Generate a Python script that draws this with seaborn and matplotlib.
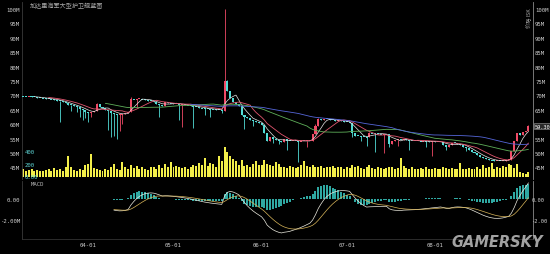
import numpy as np
import pandas as pd
import matplotlib
matplotlib.use("Agg")
import matplotlib.pyplot as plt
import matplotlib.transforms as mtrans
import seaborn as sns

title = "加达里海军大型护卫舰蓝图"
axis_name = "价格 ISK"
start_date = "2024-03-09"
date_tick_labels = ["04-01", "05-01", "06-01", "07-01", "08-01"]

closes = [
    69.7, 69.6, 69.6, 69.5, 69.4, 69.2, 69.1, 69.0, 68.9, 68.7,
    68.6, 68.4, 68.2, 68.0, 67.6, 67.2, 66.8, 66.5, 66.3, 66.0,
    65.4, 64.8, 64.3, 64.0, 64.2, 64.5, 67.0, 66.0, 65.5, 65.0,
    64.5, 64.0, 63.6, 63.4, 63.4, 63.6, 63.8, 64.3, 68.8, 68.6,
    68.7, 68.8, 68.6, 68.5, 68.2, 68.0, 67.6, 67.0, 66.6, 66.2,
    67.6, 67.4, 67.2, 67.1, 67.0, 66.9, 66.8, 66.6, 66.5, 66.3,
    66.1, 65.9, 65.7, 65.5, 65.4, 65.3, 65.2, 65.1, 65.0, 64.9,
    64.7, 75.0, 71.5, 69.2, 67.8, 67.0, 66.4, 63.0, 62.4, 62.0,
    61.6, 61.2, 60.8, 60.3, 59.6, 57.0, 54.0, 55.4, 54.8, 54.6,
    54.2, 53.9, 55.0, 54.3, 54.2, 54.3, 54.2, 54.0, 54.2, 54.1,
    54.3, 54.2, 56.5, 59.5, 61.8, 61.5, 61.9, 61.7, 61.5, 61.4,
    61.2, 61.3, 61.0, 60.9, 60.7, 60.5, 57.0, 56.0, 55.8, 55.6,
    55.5, 55.4, 57.0, 56.8, 56.7, 56.6, 56.5, 56.5, 56.4, 53.2,
    54.2, 54.5, 54.6, 54.4, 54.8, 54.5, 54.3, 54.2, 54.1, 54.2,
    54.0, 54.1, 54.0, 53.9, 54.0, 53.8, 53.9, 53.8, 52.8, 52.2,
    52.6, 53.6, 53.4, 53.0, 52.6, 52.2, 51.8, 51.0, 50.4, 49.8,
    49.2, 48.7, 48.2, 47.9, 47.6, 47.4, 47.2, 47.3, 47.2, 47.3,
    47.5, 47.6, 50.6, 54.0, 56.8, 56.3, 57.2, 57.6, 59.3,
]

opens = [
    69.8, 69.7, 69.6, 69.6, 69.5, 69.4, 69.2, 69.1, 69.0, 68.9,
    68.7, 68.6, 68.4, 68.2, 68.0, 67.6, 67.2, 66.8, 66.5, 66.3,
    66.0, 65.4, 64.8, 64.3, 64.0, 64.2, 64.5, 67.0, 66.0, 65.5,
    65.0, 64.5, 64.0, 63.6, 63.4, 63.4, 63.6, 63.8, 64.3, 68.8,
    68.6, 68.7, 68.8, 68.6, 68.5, 68.2, 68.0, 67.6, 67.0, 66.6,
    66.2, 67.6, 67.4, 67.2, 67.1, 67.0, 66.6, 66.8, 66.6, 66.5,
    66.3, 66.1, 65.9, 65.7, 65.5, 65.4, 65.3, 65.2, 65.1, 65.0,
    64.9, 64.7, 75.0, 71.5, 69.2, 67.8, 67.0, 66.4, 63.0, 62.4,
    62.0, 61.6, 61.2, 60.8, 60.3, 59.6, 57.0, 54.0, 55.4, 54.8,
    54.6, 54.2, 53.9, 55.0, 54.3, 54.2, 54.3, 54.2, 54.0, 54.2,
    54.1, 54.3, 54.2, 56.5, 59.5, 61.8, 61.5, 61.9, 61.7, 61.5,
    61.4, 61.2, 61.3, 61.0, 60.9, 60.7, 60.5, 57.0, 56.0, 55.8,
    55.6, 55.5, 55.4, 57.0, 56.8, 56.7, 56.6, 56.5, 56.5, 56.4,
    53.2, 54.2, 54.5, 54.6, 54.4, 54.8, 54.5, 54.3, 54.2, 54.1,
    54.2, 54.0, 54.1, 54.0, 53.9, 54.0, 53.8, 53.9, 53.8, 52.8,
    52.2, 52.6, 53.6, 53.4, 53.0, 52.6, 52.2, 51.8, 51.0, 50.4,
    49.8, 49.2, 48.7, 48.2, 47.9, 47.6, 47.4, 47.2, 47.3, 47.2,
    47.3, 47.5, 47.6, 50.6, 54.0, 56.8, 56.3, 57.2, 57.6,
]

volumes = [
    120, 90, 110, 130, 100, 110, 90, 100, 110, 120,
    100, 140, 110, 120, 100, 150, 330, 150, 110, 100,
    120, 110, 190, 200, 350, 140, 120, 110, 100, 120,
    110, 150, 200, 120, 110, 230, 150, 130, 190, 140,
    170, 130, 160, 120, 110, 150, 160, 130, 180, 140,
    200, 150, 230, 160, 170, 150, 140, 160, 130, 150,
    190, 170, 220, 180, 290, 170, 220, 200, 160, 320,
    250, 460, 380, 330, 280, 240, 190, 260, 170, 180,
    160, 200, 240, 180, 190, 260, 200, 180, 170, 230,
    200, 150, 160, 140, 170, 150, 140, 150, 180, 250,
    170, 150, 180, 160, 150, 170, 140, 160, 150, 170,
    140, 150, 160, 130, 150, 140, 190, 150, 170, 140,
    130, 160, 190, 140, 130, 150, 140, 120, 140, 160,
    150, 130, 140, 290, 170, 140, 130, 150, 130, 120,
    140, 130, 150, 120, 130, 140, 120, 130, 150, 140,
    130, 140, 130, 120, 210, 130, 120, 140, 130, 120,
    150, 130, 180, 140, 150, 220, 130, 160, 140, 170,
    150, 200, 180, 140, 200, 70, 60, 50, 80,
]

# long wicks (day index -> price)
wick_lows = {
    13: 60.8, 17: 64.6, 19: 64.2, 20: 62.5, 21: 61.5, 22: 62.0, 23: 60.8,
    24: 62.5, 30: 58.0, 31: 55.5, 32: 56.0, 33: 55.0, 34: 57.5, 35: 60.0,
    40: 66.0, 48: 62.5, 55: 61.5, 56: 59.0, 60: 58.5, 64: 63.0, 66: 62.5,
    70: 64.0, 78: 58.2, 81: 59.5, 88: 53.5, 90: 53.0, 93: 51.0, 97: 47.0,
    100: 52.0, 116: 55.5, 119: 54.0, 121: 52.5, 124: 50.2, 127: 50.0,
    129: 52.0, 132: 52.5, 136: 51.0, 142: 52.0, 144: 48.8, 149: 51.0,
    156: 50.5,
}
wick_highs = {
    26: 67.5, 38: 69.5, 71: 100.0, 72: 75.2, 103: 60.0, 104: 62.3,
    122: 57.3, 173: 54.3, 178: 59.8,
}

price_ticks = [100, 95, 90, 85, 80, 75, 70, 65, 60, 55, 50, 45]
volume_ticks = [400, 200, 0]
volume_tick_labels = ["400", "200", "0.00"]
macd_ticks = [0.0, -2.0]
macd_left_labels = ["0.00", "-2.00M"]
macd_right_labels = ["0.00", "-2.00"]
ma_windows = [5, 10, 30, 60]
macd_start = 32

# ---------------- style ----------------
sns.set_theme(style="dark", rc={
    "axes.facecolor": "black", "figure.facecolor": "black",
    "axes.grid": False, "axes.edgecolor": "#333333",
    "xtick.major.size": 0, "ytick.major.size": 0,
})
plt.rcParams["font.family"] = ["DejaVu Sans Mono", "Noto Sans CJK SC"]

UP = "#f04a66"
DOWN = "#52dcd6"
TXT = "#cfcfcf"
FS = 4.1
ma_colors = ["#e6e6e6", "#e2566f", "#5fb05a", "#5566d8"]
ma_widths = [0.5, 0.6, 0.6, 0.6]

W, H = 550, 255
def rect(x0, y0, x1, y1):
    return [x0 / W, 1 - y1 / H, (x1 - x0) / W, (y1 - y0) / H]

fig = plt.figure(figsize=(W / 100, H / 100), dpi=100, facecolor="black")
ax_v = fig.add_axes(rect(22, 140, 533, 178))
ax_p = fig.add_axes(rect(22, 3, 533, 180))
ax_m = fig.add_axes(rect(22, 182, 533, 240))
ax_p.set_facecolor("none")

n = len(closes)
x = np.arange(n)
o = np.array(opens, dtype=float)
c = np.array(closes, dtype=float)
body_lo = np.minimum(o, c)
body_hi = np.maximum(o, c)
lows = body_lo.copy()
highs = body_hi.copy()
for k, v in wick_lows.items():
    lows[k] = v
for k, v in wick_highs.items():
    highs[k] = v
col = np.where(c >= o, UP, DOWN)
min_h = 0.35
raw_h = body_hi - body_lo
h = np.maximum(raw_h, min_h)
bottom = np.where(raw_h < min_h, (body_hi + body_lo) / 2 - min_h / 2, body_lo)

XL = (-0.35, 179.6)
YL = (40.93, 102.44)

# volume
ax_v.bar(x, volumes, width=0.7, color="#f2ee4a", linewidth=0)
ax_v.set_xlim(*XL)
ax_v.set_ylim(0, 585)
ax_v.set_xticks([])
ax_v.set_yticks([])
for s in ax_v.spines.values():
    s.set_visible(False)
tv = mtrans.blended_transform_factory(ax_v.transAxes, ax_v.transData)
for v, lab in zip(volume_ticks, volume_tick_labels):
    ax_v.text(0.006, v, lab, transform=tv, ha="left", va="center",
              fontsize=FS, color="#5fd8d8", zorder=6)

# candles
ax_p.vlines(x, lows, highs, colors=col, linewidth=0.6, zorder=3)
ax_p.bar(x, h, bottom=bottom, width=0.72, color=col, linewidth=0, zorder=4)

series = pd.Series(c)
for w, colr, lw in zip(ma_windows, ma_colors, ma_widths):
    ma = series.rolling(w).mean()
    m = ma.notna().values
    sns.lineplot(x=x[m], y=ma.values[m], ax=ax_p, color=colr,
                 linewidth=lw, zorder=5, legend=False)

ax_p.set_xlim(*XL)
ax_p.set_ylim(*YL)
ax_p.set_xticks([])
ax_p.set_yticks(price_ticks)
ax_p.set_yticklabels([f"{p}M" for p in price_ticks])
ax_p.tick_params(axis="y", left=False, right=False, labelleft=True,
                 labelright=False, labelsize=FS, labelcolor=TXT, pad=1.5)
ax_p.set_ylabel("")
for s in ax_p.spines.values():
    s.set_visible(False)
ax_p.spines["right"].set_visible(True)
ax_p.spines["right"].set_color("#8a8a8a")
ax_p.spines["right"].set_linewidth(0.6)
ax_p.spines["left"].set_visible(True)
ax_p.spines["left"].set_color("#3a3a3a")
ax_p.spines["left"].set_linewidth(0.6)

# right price scale (the last-price tag covers the nearest level)
ax_p2 = ax_p.twinx()
ax_p2.set_ylim(*YL)
right_ticks = [p for p in price_ticks if abs(p - c[-1]) > 2]
ax_p2.set_yticks(right_ticks)
ax_p2.set_yticklabels([f"{p}M" for p in right_ticks])
ax_p2.tick_params(axis="y", right=False, labelsize=FS, labelcolor=TXT, pad=1.5)
ax_p2.grid(False)
for s in ax_p2.spines.values():
    s.set_visible(False)

# last price tag
tp = mtrans.blended_transform_factory(ax_p.transAxes, ax_p.transData)
ax_p.text(1.003, c[-1], f"{c[-1]:.2f}", transform=tp, ha="left", va="center",
          fontsize=3.8, color="white", zorder=10,
          bbox=dict(boxstyle="square,pad=0.15", fc="#2a2a2a", ec="#9a9a9a", lw=0.4))

# MACD
ema12 = series.ewm(span=12, adjust=False).mean()
ema26 = series.ewm(span=26, adjust=False).mean()
dif = (ema12 - ema26).values
dea = pd.Series(dif).ewm(span=9, adjust=False).mean().values
hist = dif - dea
xm = x[macd_start:]
ax_m.bar(xm, hist[macd_start:], width=0.7, color="#2fa8a2", linewidth=0)
sns.lineplot(x=xm, y=dif[macd_start:], ax=ax_m, color="#ecebe0", linewidth=0.5, legend=False)
sns.lineplot(x=xm, y=dea[macd_start:], ax=ax_m, color="#d9b65a", linewidth=0.5, legend=False)
ax_m.set_xlim(*XL)
ax_m.set_ylim(-3.81, 1.714)
ax_m.set_yticks(macd_ticks)
ax_m.set_yticklabels(macd_left_labels)
ax_m.tick_params(axis="y", left=False, labelsize=FS, labelcolor=TXT, pad=1.5)
dates = pd.date_range(start_date, periods=n, freq="D")
date_keys = [d.strftime("%m-%d") for d in dates]
tick_pos = [date_keys.index(lab) for lab in date_tick_labels]
ax_m.set_xticks(tick_pos)
ax_m.set_xticklabels(date_tick_labels)
ax_m.tick_params(axis="x", bottom=False, labelsize=FS, labelcolor=TXT, pad=2.5)
ax_m.set_ylabel("")
for s in ax_m.spines.values():
    s.set_visible(False)
ax_m.spines["right"].set_visible(True)
ax_m.spines["right"].set_color("#8a8a8a")
ax_m.spines["right"].set_linewidth(0.6)
ax_m.spines["left"].set_visible(True)
ax_m.spines["left"].set_color("#3a3a3a")
ax_m.spines["left"].set_linewidth(0.6)
ax_m.spines["bottom"].set_visible(True)
ax_m.spines["bottom"].set_color("#333333")
ax_m.spines["bottom"].set_linewidth(0.6)
ax_m.text(0.0176, 0.995, "MACD", transform=ax_m.transAxes, ha="left", va="top",
          fontsize=FS, color="#bcbcbc")

ax_m2 = ax_m.twinx()
ax_m2.set_ylim(ax_m.get_ylim())
ax_m2.set_yticks(macd_ticks)
ax_m2.set_yticklabels(macd_right_labels)
ax_m2.tick_params(axis="y", right=False, labelsize=3.9, labelcolor=TXT, pad=-1.2)
ax_m2.grid(False)
for s in ax_m2.spines.values():
    s.set_visible(False)

# texts
fig.text(30 / W, 1 - 6 / H, title, ha="left", va="center", fontsize=4.4,
         color="#a8a8a8", family=["Noto Sans CJK SC", "DejaVu Sans"])
fig.text(529.5 / W, 1 - 18 / H, axis_name, ha="center", va="center", rotation=90,
         fontsize=3.8, color="#a8a8a8", family=["Noto Sans CJK SC", "DejaVu Sans"])
fig.text(497 / W, 1 - 242.5 / H, "GAMERSKY", ha="center", va="center",
         fontsize=10.5, fontweight="bold", fontstyle="italic", color="#b4b4b4",
         family=["DejaVu Sans"], alpha=0.9)

fig.savefig("out.png", dpi=100, facecolor="black")
